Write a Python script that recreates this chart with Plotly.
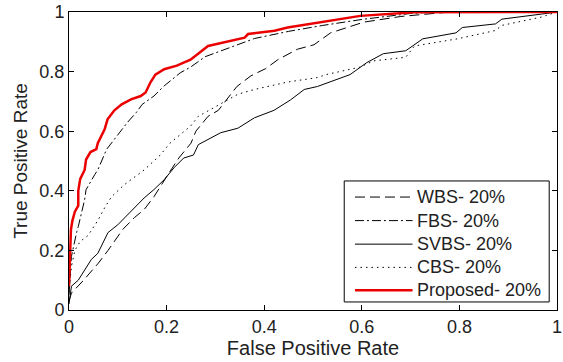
import plotly.graph_objects as go

# ---- data (False Positive Rate, True Positive Rate) ----
wbs_fpr = [0, 0.005, 0.03, 0.06, 0.08, 0.1, 0.11, 0.134, 0.154, 0.174, 0.187, 0.205, 0.225,
           0.25, 0.26, 0.285, 0.306, 0.344, 0.373, 0.403, 0.428, 0.468, 0.502, 0.536, 0.604,
           0.68, 0.78, 1.0]
wbs_tpr = [0.03, 0.057, 0.1, 0.157, 0.2, 0.247, 0.27, 0.31, 0.337, 0.38, 0.415, 0.46, 0.51,
           0.56, 0.6, 0.65, 0.67, 0.75, 0.786, 0.81, 0.84, 0.875, 0.89, 0.93, 0.966,
           0.985, 1.0, 1.0]

fbs_fpr = [0, 0.002, 0.005, 0.016, 0.019, 0.032, 0.035, 0.053, 0.059, 0.077, 0.103, 0.12,
           0.138, 0.15, 0.174, 0.195, 0.228, 0.249, 0.279, 0.33, 0.38, 0.45, 0.52, 0.6,
           0.7, 0.75, 1.0]
fbs_tpr = [0.05, 0.09, 0.18, 0.263, 0.28, 0.37, 0.404, 0.455, 0.47, 0.539, 0.596, 0.63,
           0.663, 0.69, 0.718, 0.752, 0.796, 0.815, 0.85, 0.88, 0.911, 0.935, 0.955, 0.975,
           0.995, 1.0, 1.0]

svbs_fpr = [0, 0.002, 0.005, 0.019, 0.039, 0.046, 0.059, 0.08, 0.1, 0.127, 0.154, 0.174,
            0.195, 0.215, 0.235, 0.255, 0.265, 0.311, 0.346, 0.38, 0.42, 0.454, 0.482,
            0.509, 0.576, 0.61, 0.644, 0.69, 0.725, 0.793, 0.806, 0.874, 0.887, 0.968, 1.0]
svbs_tpr = [0.02, 0.045, 0.08, 0.1, 0.15, 0.17, 0.19, 0.26, 0.286, 0.33, 0.376, 0.404,
            0.437, 0.477, 0.51, 0.52, 0.555, 0.595, 0.61, 0.645, 0.67, 0.705, 0.74,
            0.75, 0.79, 0.83, 0.86, 0.87, 0.91, 0.93, 0.948, 0.96, 0.976, 0.993, 1.0]

cbs_fpr = [0, 0.005, 0.012, 0.023, 0.039, 0.059, 0.073, 0.087, 0.113, 0.154, 0.187, 0.207,
           0.249, 0.265, 0.346, 0.38, 0.448, 0.509, 0.527, 0.596, 0.624, 0.69, 0.708,
           0.796, 0.874, 0.887, 0.968, 1.0]
cbs_tpr = [0.06, 0.146, 0.2, 0.23, 0.25, 0.3, 0.343, 0.38, 0.42, 0.47, 0.52, 0.56,
           0.617, 0.65, 0.724, 0.74, 0.765, 0.78, 0.79, 0.815, 0.836, 0.848, 0.886,
           0.91, 0.938, 0.955, 0.983, 1.0]

prop_fpr = [0, 0.002, 0.004, 0.007, 0.012, 0.019, 0.019, 0.023, 0.032, 0.035, 0.044, 0.056,
            0.059, 0.073, 0.079, 0.093, 0.108, 0.127, 0.147, 0.157, 0.167, 0.177, 0.195,
            0.221, 0.249, 0.285, 0.334, 0.36, 0.367, 0.421, 0.448, 0.509, 0.597, 0.708, 1.0]
prop_tpr = [0.08, 0.2, 0.27, 0.3, 0.33, 0.35, 0.4, 0.44, 0.47, 0.505, 0.53, 0.54,
            0.56, 0.606, 0.64, 0.67, 0.69, 0.707, 0.718, 0.73, 0.764, 0.79, 0.808,
            0.82, 0.84, 0.886, 0.903, 0.914, 0.926, 0.937, 0.948, 0.965, 0.987, 0.999, 1.0]

names = ["WBS- 20%", "FBS- 20%", "SVBS- 20%", "CBS- 20%", "Proposed- 20%"]
tick_vals = [0, 0.2, 0.4, 0.6, 0.8, 1]
tick_text = ["0", "0.2", "0.4", "0.6", "0.8", "1"]

FONT = "Liberation Sans, Arial, sans-serif"
TXT = "#222"

styles = [
    dict(color="black", width=1, dash="10px,5px"),
    dict(color="black", width=1, dash="9px,3px,2px,3px"),
    dict(color="black", width=1, dash="solid"),
    dict(color="black", width=1, dash="1.5px,4px"),
    dict(color="rgb(235,0,0)", width=2.5, dash="solid"),
]
xs = [wbs_fpr, fbs_fpr, svbs_fpr, cbs_fpr, prop_fpr]
ys = [wbs_tpr, fbs_tpr, svbs_tpr, cbs_tpr, prop_tpr]

fig = go.Figure()
for x, y, n, ln in zip(xs, ys, names, styles):
    fig.add_trace(go.Scatter(x=x, y=y, mode="lines", name=n, line=ln, showlegend=False))

axis_common = dict(
    range=[0, 1], tickvals=tick_vals, ticktext=tick_text,
    ticks="inside", ticklen=5, tickwidth=1, tickcolor="black",
    showline=True, linecolor="black", linewidth=1, mirror="ticks",
    showgrid=False, zeroline=False,
    tickfont=dict(family=FONT, size=18, color=TXT),
)
fig.update_xaxes(**axis_common, ticklabeloverflow="allow",
                 title=dict(text="False Positive Rate", font=dict(family=FONT, size=20, color=TXT), standoff=2))
fig.update_yaxes(**axis_common,
                 title=dict(text="True Positive Rate", font=dict(family=FONT, size=19, color=TXT), standoff=6))

# ---- legend box drawn in paper coordinates (MATLAB-style long samples) ----
box_x0, box_x1, box_y0, box_y1 = 0.564, 0.984, 0.027, 0.433
sample_x0, sample_x1, text_x = 0.586, 0.704, 0.710
entry_y = [0.379, 0.300, 0.221, 0.143, 0.066]

shapes = [dict(type="rect", xref="paper", yref="paper", x0=box_x0, x1=box_x1, y0=box_y0, y1=box_y1,
               line=dict(color="black", width=1), fillcolor="white", layer="above")]
annotations = []
for n, ln, yy in zip(names, styles, entry_y):
    shapes.append(dict(type="line", xref="paper", yref="paper", x0=sample_x0, x1=sample_x1,
                       y0=yy, y1=yy, line=dict(color=ln["color"], width=ln["width"], dash=ln["dash"]),
                       layer="above"))
    annotations.append(dict(xref="paper", yref="paper", x=text_x, y=yy, text=n, showarrow=False,
                            xanchor="left", yanchor="middle",
                            font=dict(family=FONT, size=18, color=TXT)))

fig.update_layout(
    width=563, height=362,
    margin=dict(l=69, r=1, t=12, b=52),
    plot_bgcolor="white", paper_bgcolor="white",
    showlegend=False,
    shapes=shapes, annotations=annotations,
)

fig.write_html("out.html")
